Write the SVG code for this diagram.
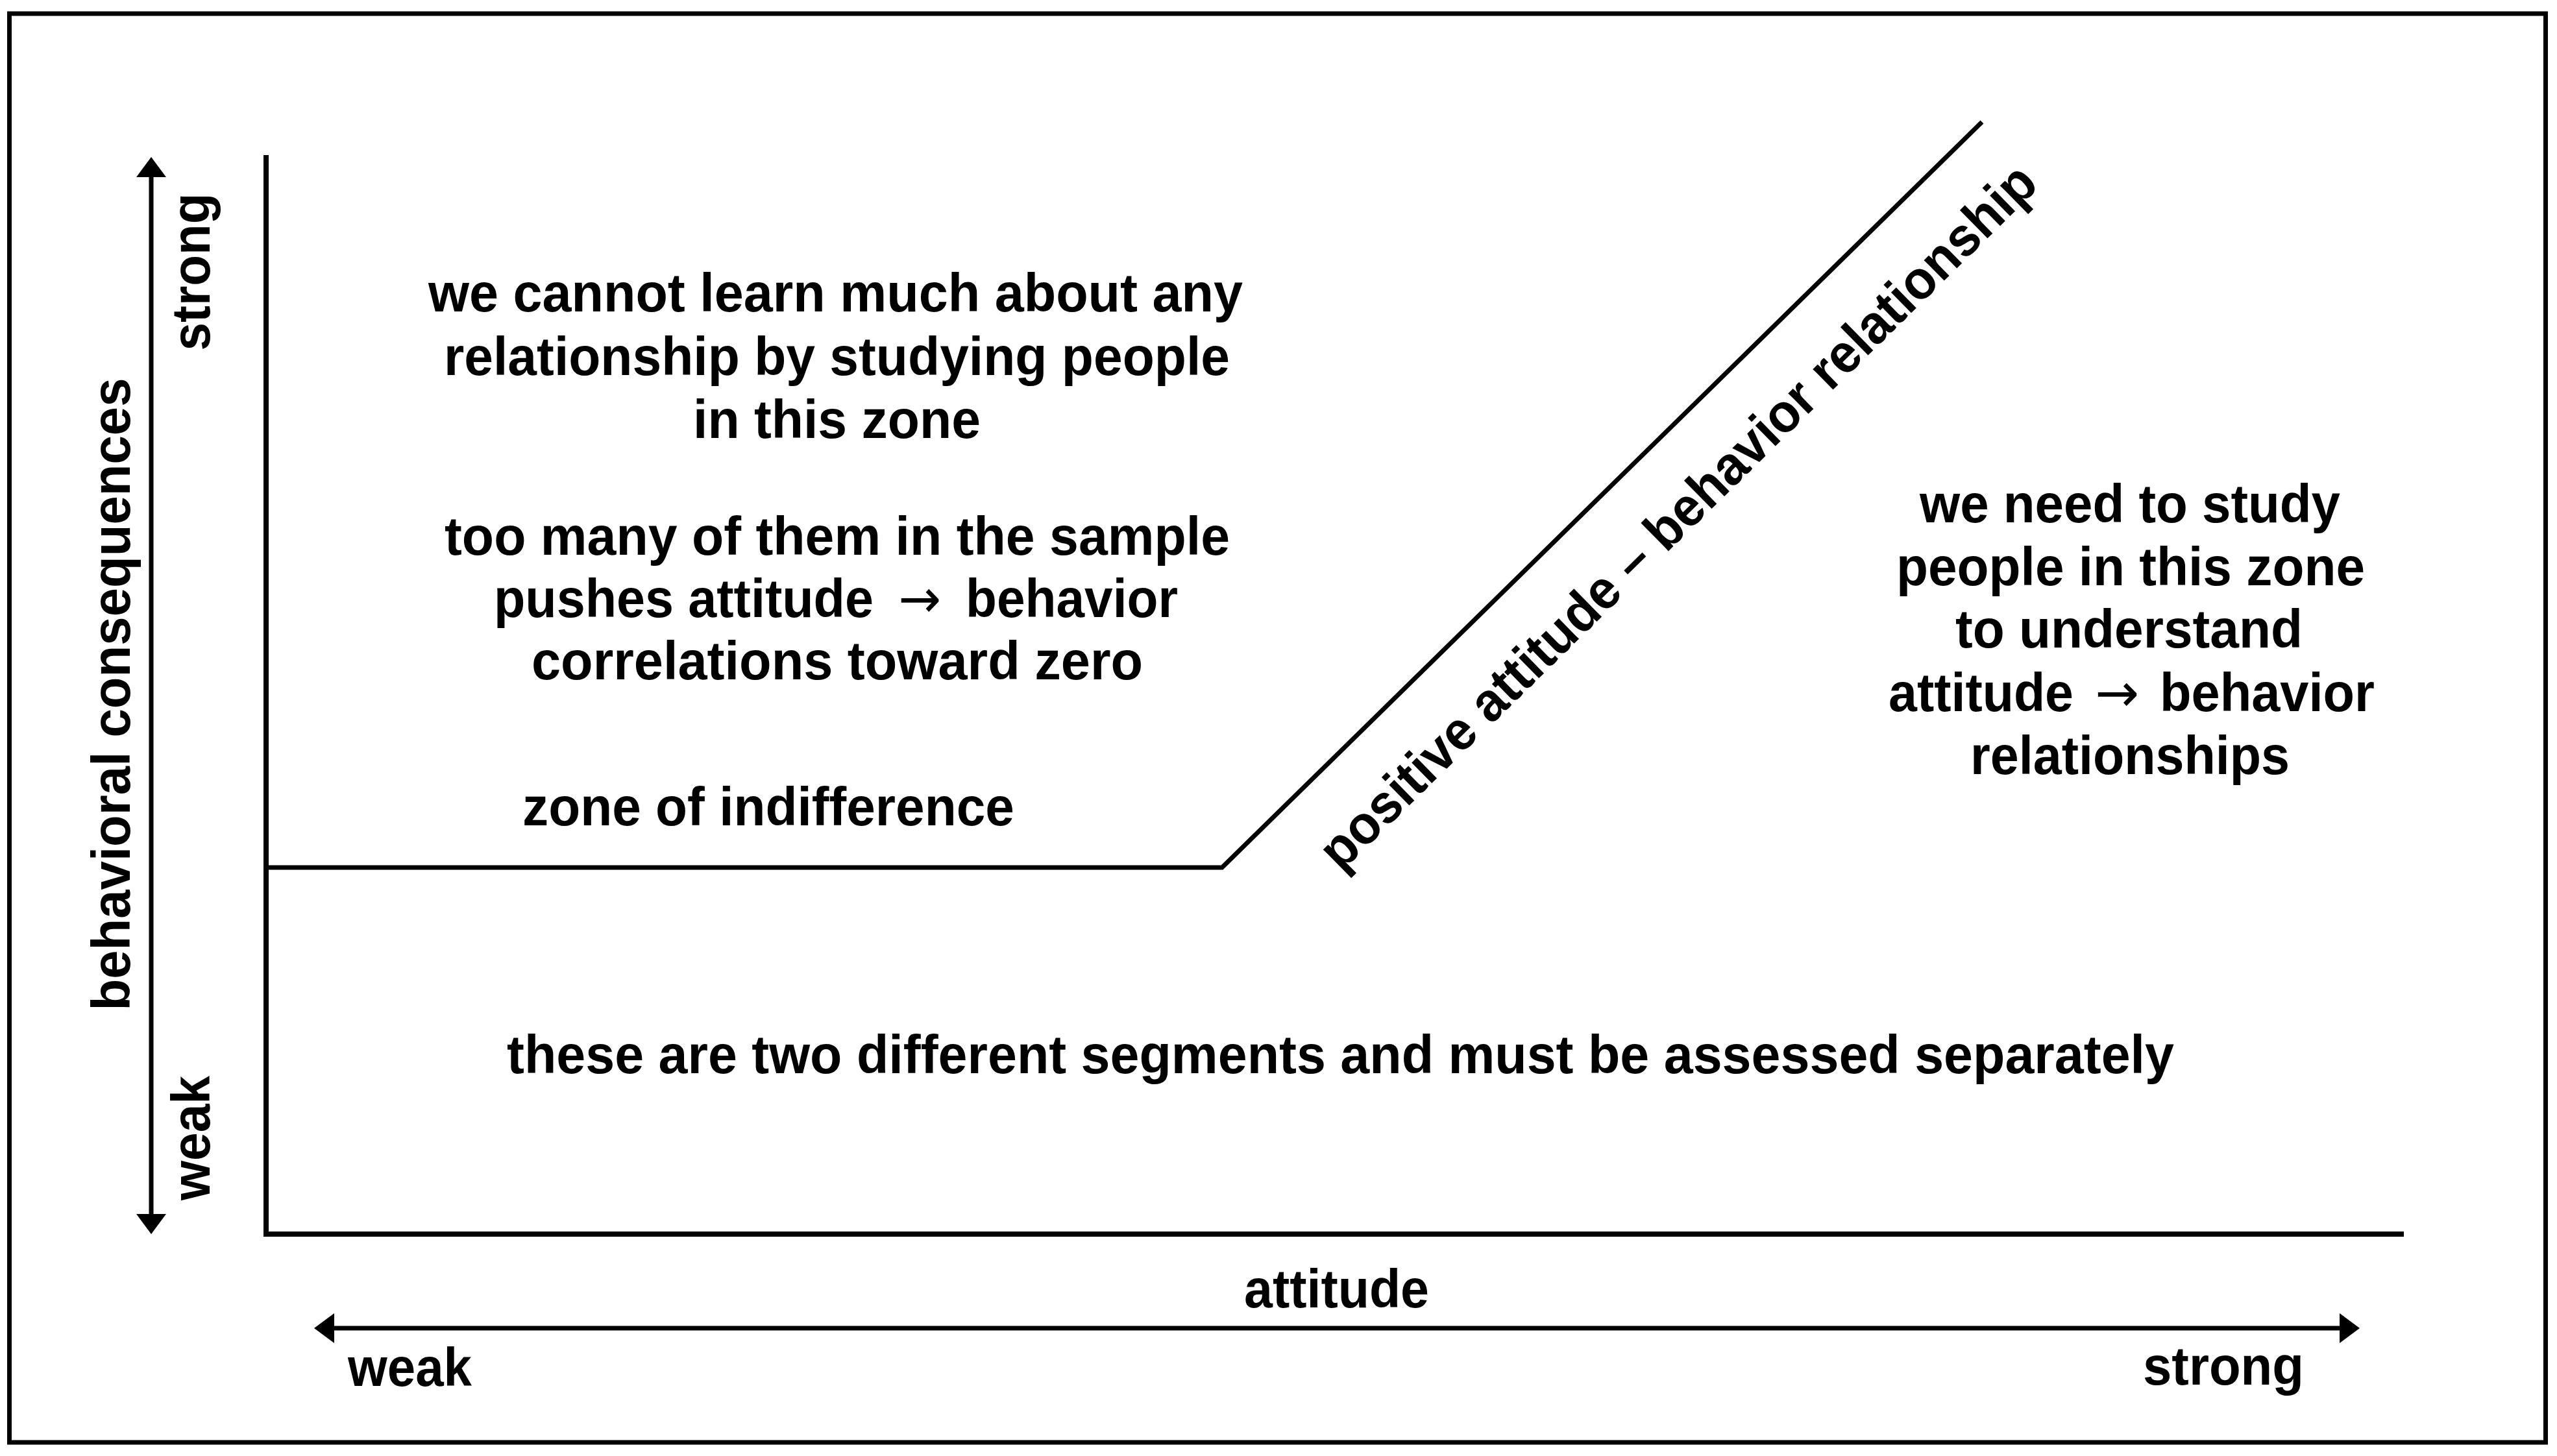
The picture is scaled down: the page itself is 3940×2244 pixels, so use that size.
<svg xmlns="http://www.w3.org/2000/svg" width="3940" height="2244" viewBox="0 0 3940 2244">
<style>
text{font-family:"Liberation Sans",Arial,Helvetica,sans-serif;font-weight:bold;font-size:84px;fill:#000}
text.arr{font-family:"DejaVu Sans",sans-serif;font-weight:normal;font-size:82px}
.ln{fill:none;stroke:#000;stroke-linecap:butt;stroke-linejoin:miter}
</style>
<defs>
<marker id="ah" markerUnits="userSpaceOnUse" markerWidth="31" markerHeight="46" refX="0" refY="23" orient="auto-start-reverse" viewBox="0 0 31 46">
<path d="M0,0 L31,23 L0,46 Z" fill="#000"/>
</marker>
</defs>
<rect width="3940" height="2244" fill="#fff"/>
<rect id="frame" x="14.5" y="21" width="3908" height="2202" fill="none" stroke="#000" stroke-width="7"/>
<g id="connectors">
<polyline id="axes" class="ln" stroke-width="8" points="410,239 410,1902 3704,1902"/>
<polyline id="curve" class="ln" stroke-width="7" points="410,1337 1883,1337 3054,188"/>
<line id="y-arrow" class="ln" stroke-width="7" x1="233" y1="273" x2="233" y2="1871" marker-start="url(#ah)" marker-end="url(#ah)"/>
<line id="x-arrow" class="ln" stroke-width="7" x1="515" y1="2047" x2="3605" y2="2047" marker-start="url(#ah)" marker-end="url(#ah)"/>
</g>
<g id="y-labels">
<text transform="translate(323,419) rotate(-90)" text-anchor="middle" textLength="243" lengthAdjust="spacingAndGlyphs">strong</text>
<text transform="translate(200,1070) rotate(-90)" text-anchor="middle" textLength="975" lengthAdjust="spacingAndGlyphs">behavioral consequences</text>
<text transform="translate(323,1754) rotate(-90)" text-anchor="middle" textLength="192" lengthAdjust="spacingAndGlyphs">weak</text>
</g>
<g id="x-labels">
<text x="1917" y="2015" textLength="285" lengthAdjust="spacingAndGlyphs">attitude</text>
<text x="536" y="2136" textLength="191" lengthAdjust="spacingAndGlyphs">weak</text>
<text x="3302" y="2134" textLength="248" lengthAdjust="spacingAndGlyphs">strong</text>
</g>
<g id="left-zone-text">
<text x="660" y="480" textLength="1255" lengthAdjust="spacingAndGlyphs">we cannot learn much about any</text>
<text x="684" y="578" textLength="1211" lengthAdjust="spacingAndGlyphs">relationship by studying people</text>
<text x="1068" y="675" textLength="443" lengthAdjust="spacingAndGlyphs">in this zone</text>
<text x="685" y="855" textLength="1210" lengthAdjust="spacingAndGlyphs">too many of them in the sample</text>
<text x="761" y="951" textLength="585" lengthAdjust="spacingAndGlyphs">pushes attitude</text>
<text class="arr" x="1384" y="951" textLength="66" lengthAdjust="spacingAndGlyphs">→</text>
<text x="1488" y="951" textLength="327" lengthAdjust="spacingAndGlyphs">behavior</text>
<text x="819" y="1047" textLength="942" lengthAdjust="spacingAndGlyphs">correlations toward zero</text>
</g>
<g id="zone-label">
<text x="805" y="1272" textLength="758" lengthAdjust="spacingAndGlyphs">zone of indifference</text>
</g>
<g id="segments-label">
<text x="781" y="1654" textLength="2569" lengthAdjust="spacingAndGlyphs">these are two different segments and must be assessed separately</text>
</g>
<g id="right-zone-text">
<text x="2958" y="805" textLength="648" lengthAdjust="spacingAndGlyphs">we need to study</text>
<text x="2922" y="902" textLength="722" lengthAdjust="spacingAndGlyphs">people in this zone</text>
<text x="3013" y="998" textLength="535" lengthAdjust="spacingAndGlyphs">to understand</text>
<text x="2910" y="1096" textLength="285" lengthAdjust="spacingAndGlyphs">attitude</text>
<text class="arr" x="3228" y="1096" textLength="68" lengthAdjust="spacingAndGlyphs">→</text>
<text x="3328" y="1096" textLength="331" lengthAdjust="spacingAndGlyphs">behavior</text>
<text x="3036" y="1193" textLength="492" lengthAdjust="spacingAndGlyphs">relationships</text>
</g>
<g id="diagonal-label">
<text transform="translate(2605,816) rotate(-44.45)" text-anchor="middle" textLength="1510" lengthAdjust="spacingAndGlyphs">positive attitude – behavior relationship</text>
</g>
</svg>
